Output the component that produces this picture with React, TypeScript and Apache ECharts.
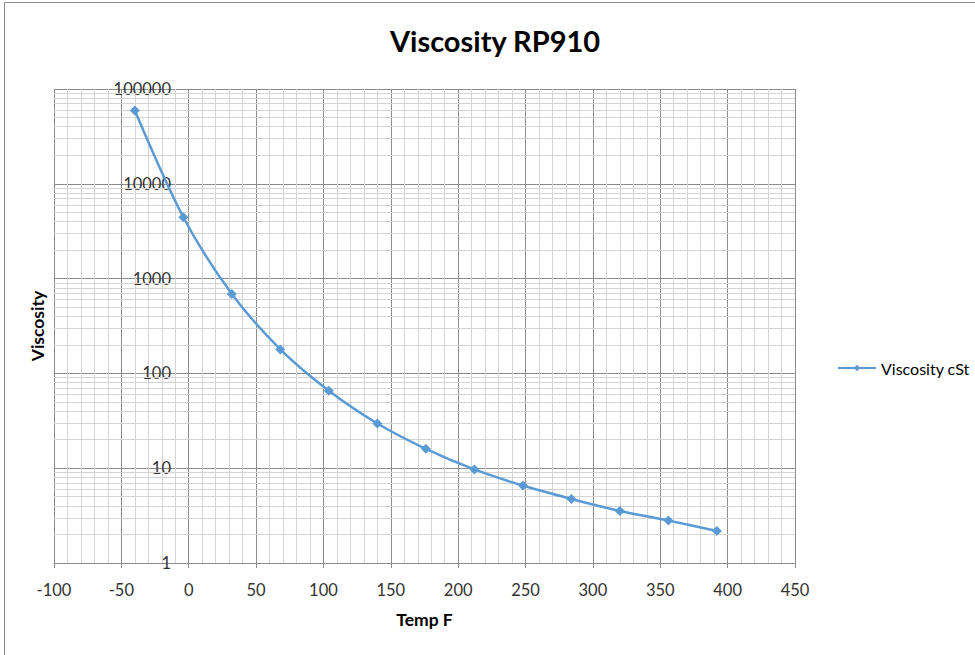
import React, { useEffect, useRef } from "react";
import * as echarts from "echarts";

const tempF = [-40, -4, 32, 68, 104, 140, 176, 212, 248, 284, 320, 356, 392];
const viscosity = [59300, 4440, 688, 179, 65.5, 29.6, 16.0, 9.7, 6.56, 4.74, 3.54, 2.8, 2.18];
const seriesName = "Viscosity cSt";
const decades = [1, 10, 100, 1000, 10000];
const mantissas = [2, 3, 4, 5, 6, 7, 8, 9];

const FONT = "Lato, 'Open Sans', sans-serif";

export default function App() {
  const ref = useRef<HTMLDivElement>(null);
  useEffect(() => {
    document.body.style.margin = "0";
    const chart = echarts.init(ref.current!, null, { renderer: "svg" });
    const points = tempF.map((t, i) => [t, viscosity[i]]);
    const minorY: { yAxis: number }[] = [];
    decades.forEach((d) => mantissas.forEach((m) => minorY.push({ yAxis: m * d })));
    chart.setOption({
      animation: false,
      backgroundColor: "#ffffff",
      textStyle: { fontFamily: FONT },
      title: {
        text: "Viscosity RP910",
        left: 490,
        top: 21,
        textAlign: "center",
        textStyle: { fontFamily: FONT, fontSize: 29, fontWeight: "bold", color: "#000" },
      },
      legend: {
        data: [seriesName],
        left: 832,
        top: 355,
        itemWidth: 38,
        itemHeight: 8,
        itemGap: 4,
        textStyle: { fontFamily: FONT, fontSize: 16, color: "#000" },
      },
      graphic: [
        {
          type: "rect",
          shape: { x: 4.5, y: 2.5, width: 1000, height: 700 },
          style: { fill: "none", stroke: "#8c8c8c", lineWidth: 1 },
          silent: true,
        },
      ],
      grid: {
        left: 54,
        right: 180,
        top: 89,
        bottom: 92,
        containLabel: false,
        outerBoundsMode: "none",
      },
      xAxis: {
        type: "value",
        min: -100,
        max: 450,
        interval: 50,
        name: "Temp F",
        nameLocation: "middle",
        nameGap: 47,
        nameTextStyle: { fontFamily: FONT, fontSize: 17.5, fontWeight: "bold", color: "#000" },
        axisLine: { onZero: false, lineStyle: { color: "#8c8c8c" } },
        axisTick: { show: true, length: 5, lineStyle: { color: "#8c8c8c" } },
        axisLabel: { fontFamily: FONT, fontSize: 16.5, color: "#333", margin: 18 },
        splitLine: { show: true, lineStyle: { color: "#8c8c8c", width: 1 } },
        minorTick: { show: false, splitNumber: 5 },
        minorSplitLine: { show: true, lineStyle: { color: "#d4d4d4", width: 1 } },
      },
      yAxis: {
        type: "log",
        logBase: 10,
        min: 1,
        max: 100000,
        name: "Viscosity",
        nameLocation: "middle",
        nameGap: 4,
        nameRotate: 90,
        nameTextStyle: { fontFamily: FONT, fontSize: 17.5, fontWeight: "bold", color: "#000" },
        axisLine: { show: false, onZero: false },
        axisTick: { show: false },
        axisLabel: {
          fontFamily: FONT,
          fontSize: 16.5,
          color: "#333",
          margin: -117,
          formatter: (v: number) => String(Math.round(v)),
        },
        splitLine: { show: true, lineStyle: { color: "#8c8c8c", width: 1 } },
      },
      series: [
        {
          name: "minor",
          type: "line",
          data: points,
          z: 1,
          symbol: "none",
          lineStyle: { opacity: 0 },
          silent: true,
          markLine: {
            silent: true,
            symbol: ["none", "none"],
            label: { show: false },
            lineStyle: { color: "#d4d4d4", width: 1, type: "solid" },
            data: minorY,
          },
        },
        {
          name: seriesName,
          type: "line",
          data: points,
          z: 5,
          smooth: 0.3,
          symbol: "diamond",
          symbolSize: 10,
          itemStyle: { color: "#5B9BD5" },
          lineStyle: { color: "#5B9BD5", width: 2.5 },
        },
      ],
    });
    return () => chart.dispose();
  }, []);
  return (
    <div
      ref={ref}
      style={{ position: "absolute", left: 0, top: 0, width: 975, height: 655 }}
    />
  );
}
